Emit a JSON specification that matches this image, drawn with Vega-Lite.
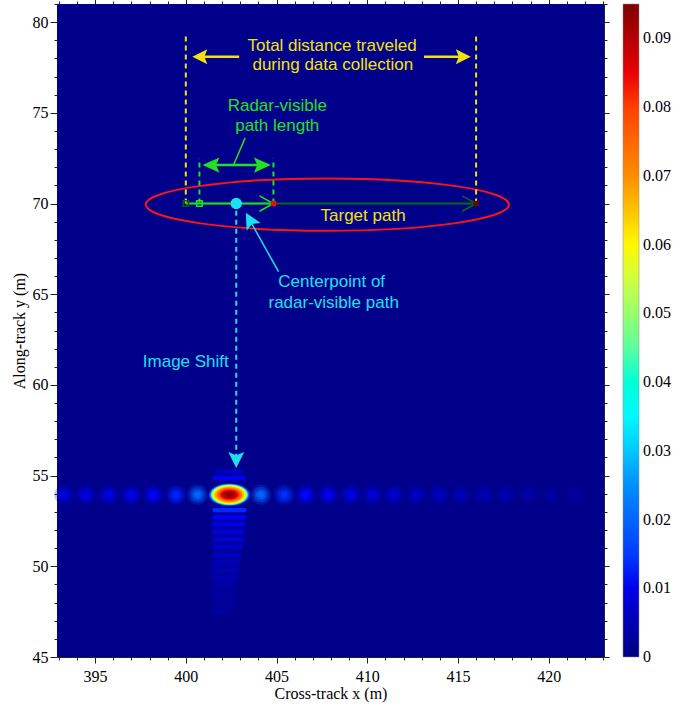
{
  "$schema": "https://vega.github.io/schema/vega-lite/v6.json",
  "width": 547,
  "height": 653,
  "autosize": "none",
  "padding": {"left": 57, "top": 4, "right": 84, "bottom": 52},
  "background": "white",
  "config": {
    "view": {"stroke": null},
    "axis": {
      "labelFont": "Liberation Serif", "labelFontSize": 16, "labelColor": "black",
      "titleFont": "Liberation Serif", "titleFontSize": 16, "titleFontWeight": "normal", "titleColor": "black",
      "domainColor": "#222", "tickColor": "#222", "grid": false
    }
  },
  "datasets": {
    "bg": [{"x": 392.9, "x2": 423.05, "y": 45, "y2": 81, "v": 0.0012}],
    "streak": [
      {"x": 401.45, "x2": 403.3, "y": 51.0, "y2": 53.4, "v": 0.0034},
      {"x": 401.42, "x2": 403.0, "y": 49.0, "y2": 51.0, "v": 0.0029},
      {"x": 401.4, "x2": 402.75, "y": 47.3, "y2": 49.0, "v": 0.0022},
      {"x": 401.55, "x2": 403.2, "y": 54.55, "y2": 55.4, "v": 0.003}
    ],
    "bands": [
      {"x": 401.65, "x2": 403.15, "y": 55.08, "y2": 55.32, "v": 0.0065},
      {"x": 401.5, "x2": 403.3, "y": 54.74, "y2": 54.98, "v": 0.011},
      {"x": 401.45, "x2": 403.35, "y": 52.98, "y2": 53.22, "v": 0.0135},
      {"x": 401.45, "x2": 403.35, "y": 52.58, "y2": 52.82, "v": 0.011},
      {"x": 401.47, "x2": 403.3, "y": 52.21, "y2": 52.45, "v": 0.0095},
      {"x": 401.47, "x2": 403.25, "y": 51.79, "y2": 52.03, "v": 0.0085},
      {"x": 401.47, "x2": 403.2, "y": 51.37, "y2": 51.61, "v": 0.0077},
      {"x": 401.47, "x2": 403.15, "y": 50.96, "y2": 51.2, "v": 0.007},
      {"x": 401.45, "x2": 403.05, "y": 50.5, "y2": 50.74, "v": 0.0063},
      {"x": 401.45, "x2": 402.95, "y": 50.08, "y2": 50.32, "v": 0.0057},
      {"x": 401.43, "x2": 402.9, "y": 49.64, "y2": 49.88, "v": 0.0052},
      {"x": 401.43, "x2": 402.8, "y": 49.22, "y2": 49.46, "v": 0.0047},
      {"x": 401.42, "x2": 402.75, "y": 48.76, "y2": 49.0, "v": 0.0042},
      {"x": 401.4, "x2": 402.7, "y": 48.3, "y2": 48.54, "v": 0.0038},
      {"x": 401.4, "x2": 402.6, "y": 47.84, "y2": 48.08, "v": 0.0034},
      {"x": 401.42, "x2": 402.5, "y": 47.38, "y2": 47.62, "v": 0.003}
    ],
    "lobes": [
      {"x": 393.31, "y": 53.95, "v": 0.0085},
      {"x": 394.5, "y": 53.95, "v": 0.009},
      {"x": 395.75, "y": 53.95, "v": 0.0095},
      {"x": 396.98, "y": 53.95, "v": 0.01},
      {"x": 398.21, "y": 53.95, "v": 0.011},
      {"x": 399.46, "y": 53.95, "v": 0.013},
      {"x": 400.65, "y": 53.95, "v": 0.02},
      {"x": 404.14, "y": 53.95, "v": 0.02},
      {"x": 405.42, "y": 53.95, "v": 0.014},
      {"x": 406.61, "y": 53.95, "v": 0.012},
      {"x": 407.86, "y": 53.95, "v": 0.0105},
      {"x": 409.09, "y": 53.95, "v": 0.0095},
      {"x": 410.28, "y": 53.95, "v": 0.0085},
      {"x": 411.47, "y": 53.95, "v": 0.0078},
      {"x": 412.7, "y": 53.95, "v": 0.007},
      {"x": 413.95, "y": 53.95, "v": 0.0064},
      {"x": 415.15, "y": 53.95, "v": 0.0058},
      {"x": 416.43, "y": 53.95, "v": 0.0052},
      {"x": 417.65, "y": 53.95, "v": 0.0046},
      {"x": 418.9, "y": 53.95, "v": 0.004},
      {"x": 420.15, "y": 53.95, "v": 0.0034},
      {"x": 421.4, "y": 53.95, "v": 0.0028}
    ],
    "rings": [
      {"x": 402.4, "y": 53.95, "w": 2.26, "v": 0.016},
      {"x": 402.4, "y": 53.95, "w": 2.12, "v": 0.025},
      {"x": 402.4, "y": 53.95, "w": 2.04, "v": 0.035},
      {"x": 402.4, "y": 53.95, "w": 1.98, "v": 0.045},
      {"x": 402.4, "y": 53.95, "w": 1.93, "v": 0.054},
      {"x": 402.4, "y": 53.95, "w": 1.82, "v": 0.06},
      {"x": 402.4, "y": 53.95, "w": 1.65, "v": 0.066},
      {"x": 402.4, "y": 53.95, "w": 1.43, "v": 0.072},
      {"x": 402.4, "y": 53.95, "w": 1.21, "v": 0.079},
      {"x": 402.4, "y": 53.95, "w": 0.99, "v": 0.085},
      {"x": 402.4, "y": 53.95, "w": 0.72, "v": 0.09},
      {"x": 402.4, "y": 53.95, "w": 0.44, "v": 0.094}
    ],
    "segs": [
      {"part": "ydash", "x": 400, "y": 70, "x2": 400, "y2": 79.26},
      {"part": "ydash", "x": 416, "y": 70, "x2": 416, "y2": 79.26},
      {"part": "gdash", "x": 400.75, "y": 70, "x2": 400.75, "y2": 72.5},
      {"part": "gdash", "x": 404.83, "y": 70, "x2": 404.83, "y2": 72.5},
      {"part": "cdash", "x": 402.78, "y": 69.6, "x2": 402.78, "y2": 55.9},
      {"part": "yarrow", "x": 402.94, "y": 78.09, "x2": 400.6, "y2": 78.09},
      {"part": "yarrow", "x": 413.13, "y": 78.09, "x2": 415.5, "y2": 78.09},
      {"part": "garrow", "x": 401.3, "y": 72.12, "x2": 404.3, "y2": 72.12},
      {"part": "gthin", "x": 403.27, "y": 73.62, "x2": 402.63, "y2": 72.12},
      {"part": "cthin", "x": 405.11, "y": 66.24, "x2": 403.6, "y2": 68.95},
      {"part": "pathdark", "x": 400, "y": 70, "x2": 416, "y2": 70},
      {"part": "pathbright", "x": 400, "y": 70, "x2": 404.83, "y2": 70}
    ],
    "heads": [
      {"part": "yhead", "x": 400.36, "y": 78.09, "heading": 180},
      {"part": "yhead", "x": 415.71, "y": 78.09, "heading": 0},
      {"part": "ghead", "x": 400.92, "y": 72.12, "heading": 180},
      {"part": "ghead", "x": 404.69, "y": 72.12, "heading": 0},
      {"part": "vbright", "x": 404.83, "y": 70, "heading": 0},
      {"part": "vdark", "x": 416, "y": 70, "heading": 0},
      {"part": "chead", "x": 402.78, "y": 55.42, "heading": 90},
      {"part": "chead", "x": 403.31, "y": 69.49, "heading": 241}
    ],
    "marks": [
      {"part": "sqdark", "x": 400, "y": 70},
      {"part": "sqgreen", "x": 400.75, "y": 70},
      {"part": "sqred", "x": 404.83, "y": 70},
      {"part": "sqdred", "x": 416, "y": 70},
      {"part": "dot", "x": 402.78, "y": 70},
      {"part": "ellipse", "x": 407.8, "y": 69.94}
    ],
    "labels": [
      {"part": "yellow", "x": 408.06, "y": 78.68, "text": "Total distance traveled"},
      {"part": "yellow", "x": 408.1, "y": 77.61, "text": "during data collection"},
      {"part": "yellow", "x": 409.77, "y": 69.31, "text": "Target path"},
      {"part": "green", "x": 405.04, "y": 75.35, "text": "Radar-visible"},
      {"part": "green", "x": 405.04, "y": 74.27, "text": "path length"},
      {"part": "cyan", "x": 408.04, "y": 65.66, "text": "Centerpoint of"},
      {"part": "cyan", "x": 408.15, "y": 64.54, "text": "radar-visible path"},
      {"part": "cyan", "x": 400.0, "y": 61.27, "text": "Image Shift"}
    ]
  },
  "layer": [
    {
      "data": {"name": "bg"},
      "mark": {"type": "rect"},
      "encoding": {
        "x": {"field": "x", "type": "quantitative",
          "scale": {"domain": [392.9, 423.05], "nice": false, "zero": false},
          "axis": {"orient": "bottom", "title": "Cross-track x (m)",
            "values": [393,394,395,396,397,398,399,400,401,402,403,404,405,406,407,408,409,410,411,412,413,414,415,416,417,418,419,420,421,422,423],
            "labelExpr": "datum.value % 5 === 0 ? datum.label : ''",
            "tickSize": {"condition": {"test": "datum.value % 5 === 0", "value": 6}, "value": 3},
            "labelPadding": 5, "titlePadding": 1, "labelFlush": false, "labelOverlap": false}},
        "x2": {"field": "x2"},
        "y": {"field": "y", "type": "quantitative",
          "scale": {"domain": [45, 81], "nice": false, "zero": false},
          "axis": {"orient": "left", "title": "Along-track y (m)",
            "values": [45,46,47,48,49,50,51,52,53,54,55,56,57,58,59,60,61,62,63,64,65,66,67,68,69,70,71,72,73,74,75,76,77,78,79,80,81],
            "labelExpr": "datum.value % 5 === 0 ? datum.label : ''",
            "tickSize": {"condition": {"test": "datum.value % 5 === 0", "value": 7}, "value": 3},
            "labelPadding": 2, "titlePadding": 5, "labelFlush": false, "labelOverlap": false}},
        "y2": {"field": "y2"},
        "color": {"field": "v", "type": "quantitative",
          "scale": {"domain": [0, 0.095], "range": ["#00007f","#0000ff","#007fff","#00ffff","#7fff7f","#ffff00","#ff7f00","#ff0000","#7f0000"]},
          "legend": {"title": null, "orient": "right", "direction": "vertical", "gradientLength": 653, "gradientThickness": 16, "offset": 13,
            "labelFont": "Liberation Serif", "labelFontSize": 16, "labelColor": "black", "labelOffset": 4, "labelBaseline": "middle",
            "values": [0, 0.01, 0.02, 0.03, 0.04, 0.05, 0.06, 0.07, 0.08, 0.09], "format": ".2~f", "labelOverlap": false,
            "gradientStrokeColor": "#888", "gradientStrokeWidth": 0.5,
            "encode": {"gradient": {"update": {"opacity": {"value": 1}}}, "labels": {"update": {"baseline": {"value": "middle"}}}}}}
      }
    },
    {
      "data": {"name": "bg"},
      "mark": {"type": "rect", "opacity": 0},
      "encoding": {
        "x": {"field": "x", "type": "quantitative",
          "axis": {"orient": "top", "title": null, "labels": false,
            "values": [393,394,395,396,397,398,399,400,401,402,403,404,405,406,407,408,409,410,411,412,413,414,415,416,417,418,419,420,421,422,423],
            "tickSize": {"condition": {"test": "datum.value % 5 === 0", "value": 5}, "value": 3}}},
        "x2": {"field": "x2"},
        "y": {"field": "y", "type": "quantitative",
          "axis": {"orient": "right", "title": null, "labels": false,
            "values": [45,46,47,48,49,50,51,52,53,54,55,56,57,58,59,60,61,62,63,64,65,66,67,68,69,70,71,72,73,74,75,76,77,78,79,80,81],
            "tickSize": {"condition": {"test": "datum.value % 5 === 0", "value": 5}, "value": 3}}},
        "y2": {"field": "y2"}
      }
    },
    {
      "data": {"name": "streak"},
      "mark": {"type": "rect", "cornerRadius": 6},
      "encoding": {
        "x": {"field": "x", "type": "quantitative", "axis": null}, "x2": {"field": "x2"},
        "y": {"field": "y", "type": "quantitative", "axis": null}, "y2": {"field": "y2"},
        "color": {"field": "v", "type": "quantitative", "scale": {"domain": [0, 0.095], "range": ["#00007f","#0000ff","#007fff","#00ffff","#7fff7f","#ffff00","#ff7f00","#ff0000","#7f0000"]}}
      }
    },
    {
      "data": {"name": "bands"},
      "mark": {"type": "rect", "cornerRadius": 3},
      "encoding": {
        "x": {"field": "x", "type": "quantitative", "axis": null}, "x2": {"field": "x2"},
        "y": {"field": "y", "type": "quantitative", "axis": null}, "y2": {"field": "y2"},
        "color": {"field": "v", "type": "quantitative", "scale": {"domain": [0, 0.095], "range": ["#00007f","#0000ff","#007fff","#00ffff","#7fff7f","#ffff00","#ff7f00","#ff0000","#7f0000"]}}
      }
    },
    {
      "data": {"name": "lobes"},
      "mark": {"type": "point", "shape": "circle", "filled": true, "size": 420, "fillOpacity": 0.22, "strokeWidth": 0},
      "encoding": {
        "x": {"field": "x", "type": "quantitative", "axis": null},
        "y": {"field": "y", "type": "quantitative", "axis": null},
        "color": {"field": "v", "type": "quantitative", "scale": {"domain": [0, 0.095], "range": ["#00007f","#0000ff","#007fff","#00ffff","#7fff7f","#ffff00","#ff7f00","#ff0000","#7f0000"]}}
      }
    },
    {
      "data": {"name": "lobes"},
      "mark": {"type": "point", "shape": "circle", "filled": true, "size": 240, "fillOpacity": 0.38, "strokeWidth": 0},
      "encoding": {
        "x": {"field": "x", "type": "quantitative", "axis": null},
        "y": {"field": "y", "type": "quantitative", "axis": null},
        "color": {"field": "v", "type": "quantitative", "scale": {"domain": [0, 0.095], "range": ["#00007f","#0000ff","#007fff","#00ffff","#7fff7f","#ffff00","#ff7f00","#ff0000","#7f0000"]}}
      }
    },
    {
      "data": {"name": "lobes"},
      "mark": {"type": "point", "shape": "circle", "filled": true, "size": 110, "fillOpacity": 0.6, "strokeWidth": 0},
      "encoding": {
        "x": {"field": "x", "type": "quantitative", "axis": null},
        "y": {"field": "y", "type": "quantitative", "axis": null},
        "color": {"field": "v", "type": "quantitative", "scale": {"domain": [0, 0.095], "range": ["#00007f","#0000ff","#007fff","#00ffff","#7fff7f","#ffff00","#ff7f00","#ff0000","#7f0000"]}}
      }
    },
    {
      "data": {"name": "lobes"},
      "mark": {"type": "point", "shape": "circle", "filled": true, "size": 36, "fillOpacity": 1, "strokeWidth": 0},
      "encoding": {
        "x": {"field": "x", "type": "quantitative", "axis": null},
        "y": {"field": "y", "type": "quantitative", "axis": null},
        "color": {"field": "v", "type": "quantitative", "scale": {"domain": [0, 0.095], "range": ["#00007f","#0000ff","#007fff","#00ffff","#7fff7f","#ffff00","#ff7f00","#ff0000","#7f0000"]}}
      }
    },
    {
      "data": {"name": "rings"},
      "mark": {"type": "point", "shape": "M-1,0 C-1,-0.3038 -0.5523,-0.55 0,-0.55 C0.5523,-0.55 1,-0.3038 1,0 C1,0.3038 0.5523,0.55 0,0.55 C-0.5523,0.55 -1,0.3038 -1,0 Z", "filled": true, "fillOpacity": 1, "strokeWidth": 0},
      "encoding": {
        "x": {"field": "x", "type": "quantitative", "axis": null},
        "y": {"field": "y", "type": "quantitative", "axis": null},
        "size": {"field": "w", "type": "quantitative", "scale": {"type": "pow", "exponent": 2, "domain": [0, 1], "range": [0, 329.06]}, "legend": null},
        "color": {"field": "v", "type": "quantitative", "scale": {"domain": [0, 0.095], "range": ["#00007f","#0000ff","#007fff","#00ffff","#7fff7f","#ffff00","#ff7f00","#ff0000","#7f0000"]}}
      }
    },
    {
      "data": {"name": "marks"},
      "transform": [{"filter": "datum.part === 'ellipse'"}],
      "mark": {"type": "point", "shape": "M-1,0 C-1,-0.0795 -0.5523,-0.144 0,-0.144 C0.5523,-0.144 1,-0.0795 1,0 C1,0.0795 0.5523,0.144 0,0.144 C-0.5523,0.144 -1,0.0795 -1,0 Z", "size": 132060, "filled": false, "stroke": "#ff1414", "strokeWidth": 2, "opacity": 1},
      "encoding": {
        "x": {"field": "x", "type": "quantitative", "axis": null},
        "y": {"field": "y", "type": "quantitative", "axis": null}
      }
    },
    {
      "data": {"name": "segs"},
      "transform": [{"filter": "datum.part === 'ydash'"}],
      "mark": {"type": "rule", "color": "#f2e30c", "strokeWidth": 2, "strokeDash": [5, 4]},
      "encoding": {
        "x": {"field": "x", "type": "quantitative", "axis": null}, "x2": {"field": "x2"},
        "y": {"field": "y", "type": "quantitative", "axis": null}, "y2": {"field": "y2"}
      }
    },
    {
      "data": {"name": "segs"},
      "transform": [{"filter": "datum.part === 'gdash'"}],
      "mark": {"type": "rule", "color": "#22e022", "strokeWidth": 2, "strokeDash": [5, 4]},
      "encoding": {
        "x": {"field": "x", "type": "quantitative", "axis": null}, "x2": {"field": "x2"},
        "y": {"field": "y", "type": "quantitative", "axis": null}, "y2": {"field": "y2"}
      }
    },
    {
      "data": {"name": "segs"},
      "transform": [{"filter": "datum.part === 'cdash'"}],
      "mark": {"type": "rule", "color": "#1de0ee", "strokeWidth": 2, "strokeDash": [5, 4]},
      "encoding": {
        "x": {"field": "x", "type": "quantitative", "axis": null}, "x2": {"field": "x2"},
        "y": {"field": "y", "type": "quantitative", "axis": null}, "y2": {"field": "y2"}
      }
    },
    {
      "data": {"name": "segs"},
      "transform": [{"filter": "datum.part === 'yarrow'"}],
      "mark": {"type": "rule", "color": "#f2e30c", "strokeWidth": 2.5},
      "encoding": {
        "x": {"field": "x", "type": "quantitative", "axis": null}, "x2": {"field": "x2"},
        "y": {"field": "y", "type": "quantitative", "axis": null}, "y2": {"field": "y2"}
      }
    },
    {
      "data": {"name": "segs"},
      "transform": [{"filter": "datum.part === 'garrow'"}],
      "mark": {"type": "rule", "color": "#22e022", "strokeWidth": 2.5},
      "encoding": {
        "x": {"field": "x", "type": "quantitative", "axis": null}, "x2": {"field": "x2"},
        "y": {"field": "y", "type": "quantitative", "axis": null}, "y2": {"field": "y2"}
      }
    },
    {
      "data": {"name": "segs"},
      "transform": [{"filter": "datum.part === 'gthin'"}],
      "mark": {"type": "rule", "color": "#22e022", "strokeWidth": 1.5},
      "encoding": {
        "x": {"field": "x", "type": "quantitative", "axis": null}, "x2": {"field": "x2"},
        "y": {"field": "y", "type": "quantitative", "axis": null}, "y2": {"field": "y2"}
      }
    },
    {
      "data": {"name": "segs"},
      "transform": [{"filter": "datum.part === 'cthin'"}],
      "mark": {"type": "rule", "color": "#1de0ee", "strokeWidth": 1.5},
      "encoding": {
        "x": {"field": "x", "type": "quantitative", "axis": null}, "x2": {"field": "x2"},
        "y": {"field": "y", "type": "quantitative", "axis": null}, "y2": {"field": "y2"}
      }
    },
    {
      "data": {"name": "segs"},
      "transform": [{"filter": "datum.part === 'pathdark'"}],
      "mark": {"type": "rule", "color": "#0b6a0b", "strokeWidth": 2},
      "encoding": {
        "x": {"field": "x", "type": "quantitative", "axis": null}, "x2": {"field": "x2"},
        "y": {"field": "y", "type": "quantitative", "axis": null}, "y2": {"field": "y2"}
      }
    },
    {
      "data": {"name": "segs"},
      "transform": [{"filter": "datum.part === 'pathbright'"}],
      "mark": {"type": "rule", "color": "#22d822", "strokeWidth": 2},
      "encoding": {
        "x": {"field": "x", "type": "quantitative", "axis": null}, "x2": {"field": "x2"},
        "y": {"field": "y", "type": "quantitative", "axis": null}, "y2": {"field": "y2"}
      }
    },
    {
      "data": {"name": "heads"},
      "transform": [{"filter": "datum.part === 'yhead'"}],
      "mark": {"type": "point", "shape": "M0,0 L-2,-1 L-1.6,0 L-2,1 Z", "size": 225, "filled": true, "fill": "#f2e30c", "strokeWidth": 0, "opacity": 1},
      "encoding": {
        "x": {"field": "x", "type": "quantitative", "axis": null},
        "y": {"field": "y", "type": "quantitative", "axis": null},
        "angle": {"field": "heading", "type": "quantitative", "scale": null}
      }
    },
    {
      "data": {"name": "heads"},
      "transform": [{"filter": "datum.part === 'ghead'"}],
      "mark": {"type": "point", "shape": "M0,0 L-2,-0.9 L-1.6,0 L-2,0.9 Z", "size": 289, "filled": true, "fill": "#22e022", "strokeWidth": 0, "opacity": 1},
      "encoding": {
        "x": {"field": "x", "type": "quantitative", "axis": null},
        "y": {"field": "y", "type": "quantitative", "axis": null},
        "angle": {"field": "heading", "type": "quantitative", "scale": null}
      }
    },
    {
      "data": {"name": "heads"},
      "transform": [{"filter": "datum.part === 'chead'"}],
      "mark": {"type": "point", "shape": "M0,0 L-2,-1 L-1.6,0 L-2,1 Z", "size": 256, "filled": true, "fill": "#1de0ee", "strokeWidth": 0, "opacity": 1},
      "encoding": {
        "x": {"field": "x", "type": "quantitative", "axis": null},
        "y": {"field": "y", "type": "quantitative", "axis": null},
        "angle": {"field": "heading", "type": "quantitative", "scale": null}
      }
    },
    {
      "data": {"name": "heads"},
      "transform": [{"filter": "datum.part === 'vdark'"}],
      "mark": {"type": "point", "shape": "M-2,-1.1 L0,0 L-2,1.1", "size": 196, "filled": false, "stroke": "#0b6a0b", "strokeWidth": 1.5, "opacity": 1},
      "encoding": {
        "x": {"field": "x", "type": "quantitative", "axis": null},
        "y": {"field": "y", "type": "quantitative", "axis": null},
        "angle": {"field": "heading", "type": "quantitative", "scale": null}
      }
    },
    {
      "data": {"name": "heads"},
      "transform": [{"filter": "datum.part === 'vbright'"}],
      "mark": {"type": "point", "shape": "M-2,-1.1 L0,0 L-2,1.1", "size": 196, "filled": false, "stroke": "#22e022", "strokeWidth": 1.5, "opacity": 1},
      "encoding": {
        "x": {"field": "x", "type": "quantitative", "axis": null},
        "y": {"field": "y", "type": "quantitative", "axis": null},
        "angle": {"field": "heading", "type": "quantitative", "scale": null}
      }
    },
    {
      "data": {"name": "marks"},
      "transform": [{"filter": "datum.part === 'sqdark'"}],
      "mark": {"type": "point", "shape": "square", "size": 30, "filled": false, "stroke": "#0b5a0b", "strokeWidth": 1.5, "opacity": 1},
      "encoding": {"x": {"field": "x", "type": "quantitative", "axis": null}, "y": {"field": "y", "type": "quantitative", "axis": null}}
    },
    {
      "data": {"name": "marks"},
      "transform": [{"filter": "datum.part === 'sqgreen'"}],
      "mark": {"type": "point", "shape": "square", "size": 30, "filled": false, "stroke": "#22e022", "strokeWidth": 1.5, "opacity": 1},
      "encoding": {"x": {"field": "x", "type": "quantitative", "axis": null}, "y": {"field": "y", "type": "quantitative", "axis": null}}
    },
    {
      "data": {"name": "marks"},
      "transform": [{"filter": "datum.part === 'sqred'"}],
      "mark": {"type": "point", "shape": "square", "size": 30, "filled": true, "fill": "#e01010", "strokeWidth": 0, "opacity": 1},
      "encoding": {"x": {"field": "x", "type": "quantitative", "axis": null}, "y": {"field": "y", "type": "quantitative", "axis": null}}
    },
    {
      "data": {"name": "marks"},
      "transform": [{"filter": "datum.part === 'sqdred'"}],
      "mark": {"type": "point", "shape": "square", "size": 30, "filled": true, "fill": "#5a0a0a", "strokeWidth": 0, "opacity": 1},
      "encoding": {"x": {"field": "x", "type": "quantitative", "axis": null}, "y": {"field": "y", "type": "quantitative", "axis": null}}
    },
    {
      "data": {"name": "marks"},
      "transform": [{"filter": "datum.part === 'dot'"}],
      "mark": {"type": "point", "shape": "circle", "size": 130, "filled": true, "fill": "#1de0ee", "strokeWidth": 0, "opacity": 1},
      "encoding": {"x": {"field": "x", "type": "quantitative", "axis": null}, "y": {"field": "y", "type": "quantitative", "axis": null}}
    },
    {
      "data": {"name": "labels"},
      "transform": [{"filter": "datum.part === 'yellow'"}],
      "mark": {"type": "text", "font": "Liberation Sans", "fontSize": 17, "color": "#f2e30c", "align": "center", "baseline": "middle"},
      "encoding": {"x": {"field": "x", "type": "quantitative", "axis": null}, "y": {"field": "y", "type": "quantitative", "axis": null}, "text": {"field": "text"}}
    },
    {
      "data": {"name": "labels"},
      "transform": [{"filter": "datum.part === 'green'"}],
      "mark": {"type": "text", "font": "Liberation Sans", "fontSize": 17, "color": "#22e022", "align": "center", "baseline": "middle"},
      "encoding": {"x": {"field": "x", "type": "quantitative", "axis": null}, "y": {"field": "y", "type": "quantitative", "axis": null}, "text": {"field": "text"}}
    },
    {
      "data": {"name": "labels"},
      "transform": [{"filter": "datum.part === 'cyan'"}],
      "mark": {"type": "text", "font": "Liberation Sans", "fontSize": 17, "color": "#1de0ee", "align": "center", "baseline": "middle"},
      "encoding": {"x": {"field": "x", "type": "quantitative", "axis": null}, "y": {"field": "y", "type": "quantitative", "axis": null}, "text": {"field": "text"}}
    }
  ],
  "resolve": {"axis": {"x": "independent", "y": "independent"}}
}
